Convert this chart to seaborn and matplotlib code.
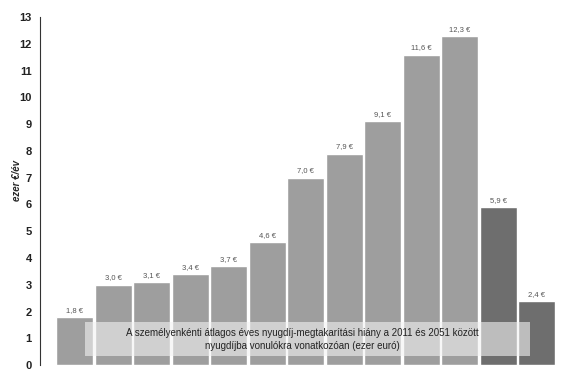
import matplotlib.pyplot as plt
import seaborn as sns
import pandas as pd

sns.set_style("white")
plt.rcParams['font.family'] = ['Liberation Sans', 'DejaVu Sans']

# values (ezer euro / ev)
groups = ['1', '2', '3', '4', '5', '6', '7', '8', '9', '10', '11', '12', '13']
values = [1.8, 3.0, 3.1, 3.4, 3.7, 4.6, 7.0, 7.9, 9.1, 11.6, 12.3, 5.9, 2.4]
shade = ['light'] * 11 + ['dark'] * 2

df = pd.DataFrame({'group': groups, 'value': values, 'shade': shade})
palette = {'light': '#9e9e9e', 'dark': '#6e6e6e'}

fig = plt.figure(figsize=(5.66, 3.71), dpi=100)
ax = fig.add_axes([0.071, 0.016, 0.915, 0.938])

sns.barplot(data=df, x='group', y='value', hue='shade', palette=palette,
            dodge=False, width=0.96, legend=False, ax=ax, saturation=1)

for i, v in enumerate(values):
    ax.text(i, v + 0.12, f"{v:.1f}".replace('.', ',') + " €", ha='center',
            va='bottom', fontsize=5.5, color='#555555')

ax.set_xlim(-0.9, 12.55)
ax.set_ylim(0, 13)
ax.set_yticks(range(0, 14))
ax.set_yticklabels([str(t) for t in range(0, 14)], fontweight='bold', fontsize=8)
ax.tick_params(axis='y', direction='in', length=10, width=0.8, pad=6, colors='#222222')
ax.set_xticks([])
ax.set_xlabel('')
ax.set_ylabel('ezer €/év', fontsize=7, fontstyle='italic', fontweight='bold')
ax.yaxis.set_label_coords(-0.035, 0.53)

sns.despine(ax=ax, top=True, right=True, bottom=True)
ax.spines['left'].set_color('#333333')
ax.spines['left'].set_linewidth(0.8)

# light translucent band behind the caption
ax.axhspan(0.34, 1.6, xmin=0.087, xmax=0.946, facecolor='#f2f2f2',
           edgecolor='none', alpha=0.6, zorder=3)

ax.text(5.9, 0.95,
        "A személyenkénti átlagos éves nyugdíj-megtakarítási hiány a 2011 és 2051 között\n"
        "nyugdíjba vonulókra vonatkozóan (ezer euró)",
        ha='center', va='center', fontsize=7, color='#222222', linespacing=1.3,
        zorder=4)

plt.savefig('out.png', dpi=100)
